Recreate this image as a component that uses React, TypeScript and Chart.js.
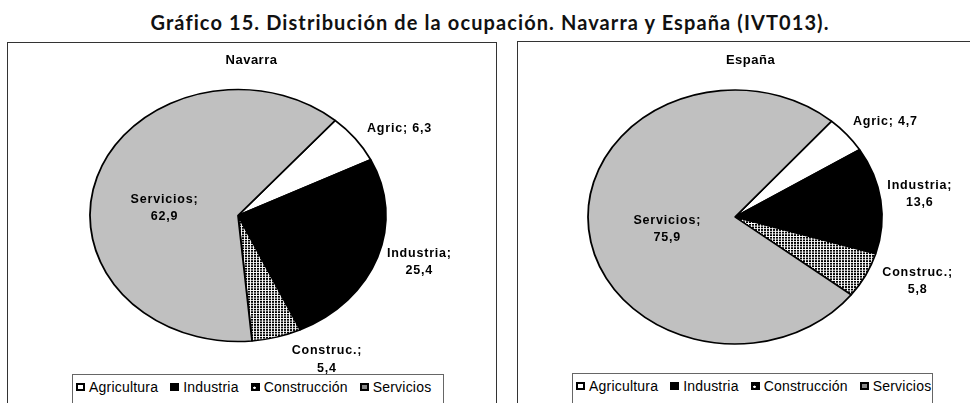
import React, { useEffect, useRef } from 'react';
import { Chart, registerables } from 'chart.js';
Chart.register(...registerables);

// ---- data ----
const categories = ['Agricultura', 'Industria', 'Construcción', 'Servicios'];
const shortNames = ['Agric', 'Industria', 'Construc.', 'Servicios'];
const navarraValues = [6.3, 25.4, 5.4, 62.9];
const espanaValues = [4.7, 13.6, 5.8, 75.9];
const mainTitle = 'Gráfico 15. Distribución de la ocupación. Navarra y España (IVT013).';
const navarraTitle = 'Navarra';
const espanaTitle = 'España';

// ---- styles / placement ----
const GREY = '#c0c0c0';
const LABEL_FONT = 'bold 12.5px "Liberation Sans", Arial, sans-serif';

function makeDots(): CanvasPattern | string {
  const c = document.createElement('canvas');
  c.width = 6; c.height = 6;
  const g = c.getContext('2d');
  if (!g) return '#888';
  g.fillStyle = '#fff'; g.fillRect(0, 0, 6, 6);
  g.fillStyle = '#000';
  g.fillRect(0, 0, 2, 2);
  g.fillRect(3, 3, 2, 2);
  g.fillRect(3, 0, 2, 2);
  g.fillRect(0, 3, 2, 2);
  const p = g.createPattern(c, 'repeat');
  return p || '#888';
}

type Place = { shift: number; r: number; oneLine?: boolean };

const navarraPlace: Place[] = [
  { shift: 5.4, r: 1.29, oneLine: true },
  { shift: -2.6, r: 1.28 },
  { shift: -12.6, r: 1.29 },
  { shift: -11.2, r: 0.5 },
];
const espanaPlace: Place[] = [
  { shift: 4.2, r: 1.27, oneLine: true },
  { shift: -0.5, r: 1.27 },
  { shift: -5.3, r: 1.34 },
  { shift: -5.9, r: 0.47 },
];

const fmt = (v: number) => v.toFixed(1).replace('.', ',');

const ellipsePlugin = {
  id: 'ellipse',
  beforeDatasetsDraw(chart: any, _a: any, opts: any) {
    const el = chart.getDatasetMeta(0).data[0];
    if (!el) return;
    const ctx = chart.ctx;
    ctx.save();
    ctx.translate(el.x, el.y);
    ctx.scale(1, opts.ratio);
    ctx.translate(-el.x, -el.y);
  },
  afterDatasetsDraw(chart: any) {
    chart.ctx.restore();
  },
};

const labelsPlugin = {
  id: 'pieLabels',
  afterDraw(chart: any, _a: any, opts: any) {
    const ctx = chart.ctx;
    const meta = chart.getDatasetMeta(0);
    const values: number[] = chart.data.datasets[0].data;
    ctx.save();
    ctx.font = LABEL_FONT;
    try { (ctx as any).letterSpacing = '0.8px'; } catch (e) {}
    ctx.fillStyle = '#000';
    ctx.textAlign = 'center';
    ctx.textBaseline = 'middle';
    meta.data.forEach((el: any, i: number) => {
      const p: Place = opts.place[i];
      const a = (el.startAngle + el.endAngle) / 2 + (p.shift * Math.PI) / 180;
      const px = el.x + Math.cos(a) * el.outerRadius * p.r;
      const py = el.y + Math.sin(a) * el.outerRadius * p.r * opts.ratio;
      const name = shortNames[i] + ';';
      const val = fmt(values[i]);
      if (p.oneLine) {
        ctx.fillText(name + ' ' + val, px, py);
      } else {
        ctx.fillText(name, px, py - 8.75);
        ctx.fillText(val, px, py + 8.75);
      }
    });
    ctx.restore();
  },
};

function PieChart(props: {
  values: number[];
  width: number;
  height: number;
  radius: number;
  ratio: number;
  padRight: number;
  padBottom: number;
  place: Place[];
}) {
  const ref = useRef<HTMLCanvasElement>(null);
  useEffect(() => {
    if (!ref.current) return;
    const dots = makeDots();
    const chart = new Chart(ref.current, {
      type: 'pie',
      data: {
        labels: categories,
        datasets: [
          {
            data: props.values,
            backgroundColor: ['#ffffff', '#000000', dots as any, GREY],
            borderColor: '#000',
            borderWidth: 1.8,
            radius: props.radius,
          } as any,
        ],
      },
      options: {
        responsive: false,
        animation: false,
        events: [],
        rotation: 41,
        layout: { padding: { left: 0, top: 0, right: props.padRight, bottom: props.padBottom } },
        plugins: {
          legend: { display: false },
          title: { display: false },
          tooltip: { enabled: false },
          ellipse: { ratio: props.ratio },
          pieLabels: { ratio: props.ratio, place: props.place },
        } as any,
      },
      plugins: [ellipsePlugin, labelsPlugin],
    });
    return () => chart.destroy();
  }, []);
  return (
    <canvas
      ref={ref}
      width={props.width}
      height={props.height}
      style={{ position: 'absolute', left: 0, top: 0, width: props.width, height: props.height }}
    />
  );
}

function Marker(props: { fill: string; dots?: boolean }) {
  return (
    <span
      style={{
        display: 'inline-block',
        width: 9,
        height: 8,
        boxSizing: 'border-box',
        border: '2px solid #000',
        background: props.dots
          ? 'radial-gradient(circle at 30% 70%, #fff 0 1px, #000 1.5px)'
          : props.fill,
        marginRight: 4,
        verticalAlign: 'middle',
        position: 'relative',
        top: -1,
      }}
    />
  );
}

function Legend(props: { left: number; width: number }) {
  const fills = ['#fff', '#000', '#000', '#888'];
  return (
    <div
      style={{
        position: 'absolute',
        left: props.left,
        top: 331,
        width: props.width,
        height: 40,
        boxSizing: 'border-box',
        border: '1px solid #666',
        background: '#fff',
        font: '14px "Liberation Sans", Arial, sans-serif',
        letterSpacing: '0.2px',
        color: '#000',
        paddingLeft: 3,
        paddingTop: 3,
        whiteSpace: 'nowrap',
        display: 'flex',
        alignItems: 'flex-start',
      }}
    >
      {categories.map((c, i) => (
        <span key={c} style={{ marginRight: i < 3 ? 12 : 0, lineHeight: '18px' }}>
          <Marker fill={fills[i]} dots={i === 2} />
          {c}
        </span>
      ))}
    </div>
  );
}

export default function App() {
  return (
    <div
      style={{
        position: 'fixed',
        left: 0,
        top: 0,
        width: 970,
        height: 403,
        overflow: 'hidden',
        background: '#fff',
        fontFamily: '"Liberation Sans", Arial, sans-serif',
      }}
    >
      <div
        style={{
          position: 'absolute',
          left: 0,
          top: 9,
          width: 980,
          textAlign: 'center',
          font: 'bold 20px Lato, "DejaVu Sans", sans-serif',
          letterSpacing: '1.1px',
          color: '#111',
          lineHeight: '26px',
        }}
      >
        {mainTitle}
      </div>

      <div
        style={{
          position: 'absolute',
          left: 7,
          top: 42,
          width: 490,
          height: 400,
          boxSizing: 'border-box',
          border: '1.5px solid #333',
        }}
      >
        <PieChart
          values={navarraValues}
          width={487}
          height={358}
          radius={148}
          ratio={126 / 148}
          padRight={27}
          padBottom={13}
          place={navarraPlace}
        />
        <div
          style={{
            position: 'absolute',
            left: 0,
            top: 9,
            width: 487,
            textAlign: 'center',
            font: 'bold 13px "Liberation Sans", Arial, sans-serif',
            letterSpacing: '0.5px',
            lineHeight: '16px',
          }}
        >
          {navarraTitle}
        </div>
        <Legend left={64} width={372} />
      </div>

      <div
        style={{
          position: 'absolute',
          left: 517,
          top: 41,
          width: 468,
          height: 400,
          boxSizing: 'border-box',
          border: '1.5px solid #333',
        }}
      >
        <PieChart
          values={espanaValues}
          width={452}
          height={361}
          radius={147}
          ratio={127 / 147}
          padRight={18}
          padBottom={11}
          place={espanaPlace}
        />
        <div
          style={{
            position: 'absolute',
            left: 0,
            top: 10,
            width: 465,
            textAlign: 'center',
            font: 'bold 13px "Liberation Sans", Arial, sans-serif',
            letterSpacing: '0.5px',
            lineHeight: '16px',
          }}
        >
          {espanaTitle}
        </div>
        <Legend left={54} width={361} />
      </div>
    </div>
  );
}
